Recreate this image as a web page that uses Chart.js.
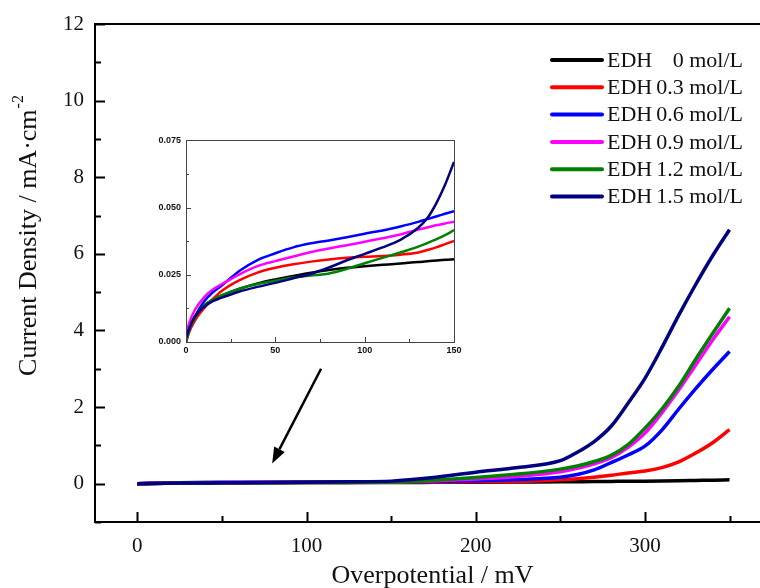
<!DOCTYPE html>
<html>
<head>
<meta charset="utf-8">
<script src="https://cdn.jsdelivr.net/npm/chart.js@4.4.0/dist/chart.umd.min.js"></script>
<style>
  html, body { margin: 0; padding: 0; background: #fff; }
  #wrap { position: relative; width: 760px; height: 588px; overflow: hidden; }
  #main { position: absolute; left: 0; top: 0; }
  #inset { position: absolute; left: 140px; top: 130px; }
</style>
</head>
<body>
<div id="wrap">
  <canvas id="main" width="760" height="588"></canvas>
  <canvas id="inset" width="330" height="230"></canvas>
</div>
<script>
// main plot: overpotential (mV) vs current density
const mainX = [0, 25, 50, 75, 100, 125, 150, 175, 200, 225, 250, 260, 270, 280, 290, 300, 310, 320, 330, 340, 350];
const edh00 = [0, 0.018, 0.022, 0.026, 0.028, 0.03, 0.031, 0.035, 0.04, 0.045, 0.05, 0.053, 0.056, 0.06, 0.063, 0.067, 0.072, 0.078, 0.085, 0.092, 0.1];
const edh03 = [0, 0.02, 0.027, 0.03, 0.031, 0.033, 0.038, 0.045, 0.05, 0.06, 0.1, 0.13, 0.17, 0.22, 0.28, 0.33, 0.42, 0.57, 0.8, 1.07, 1.41];
const edh06 = [0, 0.025, 0.035, 0.038, 0.041, 0.044, 0.049, 0.06, 0.08, 0.11, 0.17, 0.24, 0.36, 0.55, 0.75, 0.98, 1.4, 1.95, 2.48, 2.98, 3.45];
const edh09 = [0, 0.024, 0.032, 0.035, 0.038, 0.041, 0.045, 0.07, 0.12, 0.19, 0.31, 0.4, 0.52, 0.68, 0.95, 1.32, 1.85, 2.45, 3.1, 3.75, 4.36];
const edh12 = [0, 0.016, 0.023, 0.026, 0.03, 0.034, 0.042, 0.09, 0.16, 0.25, 0.38, 0.46, 0.58, 0.74, 1.02, 1.45, 1.95, 2.55, 3.25, 3.92, 4.58];
const edh15 = [0, 0.015, 0.022, 0.028, 0.04, 0.05, 0.067, 0.16, 0.3, 0.42, 0.6, 0.82, 1.1, 1.5, 2.1, 2.75, 3.55, 4.4, 5.2, 5.95, 6.63];

// inset: 0-150 mV zoom
const insetX = [0, 2, 5, 10, 15, 20, 30, 40, 50, 60, 70, 80, 90, 100, 110, 120, 130, 135, 140, 145, 150];
const in00 = [0.0015, 0.0055, 0.0095, 0.0135, 0.0157, 0.0173, 0.0198, 0.0218, 0.0233, 0.0246, 0.0258, 0.0268, 0.0276, 0.0282, 0.0287, 0.0292, 0.0298, 0.03, 0.0303, 0.0306, 0.0308];
const in03 = [0, 0.004, 0.008, 0.0125, 0.016, 0.019, 0.023, 0.0258, 0.0276, 0.0289, 0.0299, 0.0307, 0.0313, 0.0317, 0.032, 0.0325, 0.0333, 0.0342, 0.0352, 0.0364, 0.0376];
const in06 = [0, 0.005, 0.0095, 0.015, 0.0185, 0.021, 0.0265, 0.0305, 0.033, 0.0352, 0.0367, 0.0378, 0.039, 0.0403, 0.0415, 0.043, 0.0447, 0.0457, 0.0467, 0.0477, 0.0487];
const in09 = [0.003, 0.0075, 0.012, 0.0165, 0.0195, 0.0215, 0.0252, 0.0282, 0.0301, 0.0318, 0.0335, 0.0348, 0.036, 0.0373, 0.0386, 0.04, 0.0418, 0.0426, 0.0434, 0.0441, 0.0447];
const in12 = [0, 0.005, 0.009, 0.0135, 0.0157, 0.0173, 0.0198, 0.0216, 0.0228, 0.024, 0.0247, 0.0255, 0.0272, 0.0293, 0.0313, 0.0333, 0.0355, 0.0368, 0.0382, 0.0398, 0.0416];
const in15 = [0.0015, 0.0055, 0.0095, 0.013, 0.0152, 0.0165, 0.0188, 0.0205, 0.022, 0.0237, 0.0254, 0.0277, 0.0304, 0.0328, 0.0352, 0.038, 0.0425, 0.046, 0.0515, 0.0585, 0.067];

const labels = ['0', '0.3', '0.6', '0.9', '1.2', '1.5'];
const colors = ['#000000', '#ff0000', '#0000ff', '#ff00ff', '#008000', '#000080'];

const mainXTicks = [0, 100, 200, 300];
const mainXMinor = [50, 150, 250, 350];
const mainYTicks = [0, 2, 4, 6, 8, 10, 12];
const mainYMinor = [-1, 1, 3, 5, 7, 9, 11];
const insetXTicks = [0, 50, 100, 150];
const insetXMinor = [25, 75, 125];
const insetYTicks = [0, 0.025, 0.05, 0.075];
const insetYMinor = [0.0125, 0.0375, 0.0625];

// arrow from the inset down to the flat region (data coords)
const arrowFrom = { x: 108.6, y: 3.0 };
const arrowTo = { x: 79.7, y: 0.53 };

const serif = "'Liberation Serif', 'Times New Roman', serif";

function makeSets(xs, series, width) {
    return series.map((arr, i) => ({
        label: 'EDH ' + labels[i] + ' mol/L',
        data: xs.map((x, j) => ({ x: x, y: arr[j] })),
        borderColor: colors[i],
        borderWidth: width,
        pointRadius: 0,
        fill: false,
        cubicInterpolationMode: 'monotone',
        order: 5 - i
    }));
}

function inwardTicks(ctx, chart, xs, ys, len, color, width) {
    const a = chart.chartArea;
    const sx = chart.scales.x, sy = chart.scales.y;
    ctx.save();
    ctx.strokeStyle = color;
    ctx.lineWidth = width;
    ctx.beginPath();
    xs.forEach(v => {
        const px = Math.round(sx.getPixelForValue(v)) + 0.5;
        ctx.moveTo(px, a.bottom);
        ctx.lineTo(px, a.bottom - len);
    });
    ys.forEach(v => {
        const py = Math.round(sy.getPixelForValue(v)) + 0.5;
        ctx.moveTo(a.left, py);
        ctx.lineTo(a.left + len, py);
    });
    ctx.stroke();
    ctx.restore();
}

const mainDecor = {
    id: 'mainDecor',
    afterDraw(chart) {
        const ctx = chart.ctx;
        const a = chart.chartArea;
        const sx = chart.scales.x, sy = chart.scales.y;

        // frame (right edge is cut off in the original)
        ctx.save();
        ctx.strokeStyle = '#000';
        ctx.lineWidth = 2;
        ctx.beginPath();
        ctx.moveTo(760, a.top);
        ctx.lineTo(a.left, a.top);
        ctx.lineTo(a.left, a.bottom);
        ctx.lineTo(760, a.bottom);
        ctx.stroke();
        ctx.restore();

        inwardTicks(ctx, chart, mainXTicks, mainYTicks, 10, '#000', 2);
        inwardTicks(ctx, chart, mainXMinor, mainYMinor, 6, '#000', 2);

        // axis titles
        ctx.save();
        ctx.fillStyle = '#111';
        ctx.font = '26px ' + serif;
        ctx.textAlign = 'center';
        ctx.textBaseline = 'alphabetic';
        ctx.fillText('Overpotential / mV', (a.left + a.right) / 2 + 5, 583);

        ctx.translate(36, 236);
        ctx.rotate(-Math.PI / 2);
        const main = 'Current Density / mA\u00b7cm';
        ctx.font = '26px ' + serif;
        const w1 = ctx.measureText(main).width;
        ctx.font = '16px ' + serif;
        const w2 = ctx.measureText('-2').width;
        const start = -(w1 + w2) / 2;
        ctx.textAlign = 'left';
        ctx.font = '26px ' + serif;
        ctx.fillText(main, start, 0);
        ctx.font = '16px ' + serif;
        ctx.fillText('-2', start + w1 + 1, -13);
        ctx.restore();

        // legend
        ctx.save();
        chart.data.datasets.forEach((ds, i) => {
            const y = 60 + i * 27.3;
            ctx.strokeStyle = ds.borderColor;
            ctx.lineWidth = 4;
            ctx.lineCap = 'round';
            ctx.beginPath();
            ctx.moveTo(552, y);
            ctx.lineTo(602, y);
            ctx.stroke();
            ctx.fillStyle = '#111';
            ctx.font = '22px ' + serif;
            ctx.textBaseline = 'middle';
            ctx.textAlign = 'left';
            ctx.fillText('EDH', 607, y + 1);
            ctx.textAlign = 'right';
            ctx.fillText(labels[i] + ' mol/L', 743, y + 1);
        });
        ctx.restore();

        // arrow
        const x1 = sx.getPixelForValue(arrowFrom.x), y1 = sy.getPixelForValue(arrowFrom.y);
        const x2 = sx.getPixelForValue(arrowTo.x), y2 = sy.getPixelForValue(arrowTo.y);
        const ang = Math.atan2(y2 - y1, x2 - x1);
        const hl = 16, hw = 6;
        const bx = x2 - hl * Math.cos(ang), by = y2 - hl * Math.sin(ang);
        ctx.save();
        ctx.strokeStyle = '#000';
        ctx.fillStyle = '#000';
        ctx.lineWidth = 2.5;
        ctx.beginPath();
        ctx.moveTo(x1, y1);
        ctx.lineTo(bx, by);
        ctx.stroke();
        ctx.beginPath();
        ctx.moveTo(x2, y2);
        ctx.lineTo(bx + hw * Math.sin(ang), by - hw * Math.cos(ang));
        ctx.lineTo(bx - hw * Math.sin(ang), by + hw * Math.cos(ang));
        ctx.closePath();
        ctx.fill();
        ctx.restore();
    }
};

const insetDecor = {
    id: 'insetDecor',
    afterDraw(chart) {
        const ctx = chart.ctx;
        const a = chart.chartArea;
        ctx.save();
        ctx.strokeStyle = '#444';
        ctx.lineWidth = 1;
        ctx.strokeRect(Math.round(a.left) + 0.5, Math.round(a.top) + 0.5, Math.round(a.right - a.left), Math.round(a.bottom - a.top));
        ctx.restore();
        inwardTicks(ctx, chart, insetXTicks, insetYTicks, 5, '#444', 1);
        inwardTicks(ctx, chart, insetXMinor, insetYMinor, 3, '#444', 1);
    }
};

new Chart(document.getElementById('main'), {
    type: 'line',
    data: { datasets: makeSets(mainX, [edh00, edh03, edh06, edh09, edh12, edh15], 3.5) },
    options: {
        responsive: false,
        animation: false,
        layout: { padding: { top: 24, right: 0, left: 0, bottom: 0 } },
        plugins: { legend: { display: false }, tooltip: { enabled: false } },
        scales: {
            x: {
                type: 'linear',
                min: -25,
                max: 368,
                grid: { display: false, drawTicks: false },
                border: { display: false },
                ticks: { font: { family: serif, size: 21 }, color: '#111', padding: 12, maxRotation: 0 },
                afterBuildTicks: s => { s.ticks = mainXTicks.map(v => ({ value: v })); },
                afterFit: s => { s.height = 66; }
            },
            y: {
                type: 'linear',
                min: -1,
                max: 12,
                grid: { display: false, drawTicks: false },
                border: { display: false },
                ticks: { font: { family: serif, size: 21 }, color: '#111', padding: 11 },
                afterBuildTicks: s => { s.ticks = mainYTicks.map(v => ({ value: v })); },
                afterFit: s => { s.width = 95; }
            }
        }
    },
    plugins: [mainDecor]
});

new Chart(document.getElementById('inset'), {
    type: 'line',
    data: { datasets: makeSets(insetX, [in00, in03, in06, in09, in12, in15], 2.5) },
    options: {
        responsive: false,
        animation: false,
        layout: { padding: { top: 10, right: 16, left: 0, bottom: 0 } },
        plugins: { legend: { display: false }, tooltip: { enabled: false } },
        scales: {
            x: {
                type: 'linear',
                min: 0,
                max: 150,
                grid: { display: false, drawTicks: false },
                border: { display: false },
                ticks: { font: { family: "'Liberation Sans', Arial, sans-serif", size: 9, weight: 'bold' }, color: '#111', padding: 3, maxRotation: 0 },
                afterBuildTicks: s => { s.ticks = insetXTicks.map(v => ({ value: v })); },
                afterFit: s => { s.height = 18; }
            },
            y: {
                type: 'linear',
                min: 0,
                max: 0.075,
                grid: { display: false, drawTicks: false },
                border: { display: false },
                ticks: {
                    font: { family: "'Liberation Sans', Arial, sans-serif", size: 9, weight: 'bold' },
                    color: '#111',
                    padding: 5,
                    callback: v => v.toFixed(3)
                },
                afterBuildTicks: s => { s.ticks = insetYTicks.map(v => ({ value: v })); },
                afterFit: s => { s.width = 46; }
            }
        }
    },
    plugins: [insetDecor]
});
</script>
</body>
</html>
